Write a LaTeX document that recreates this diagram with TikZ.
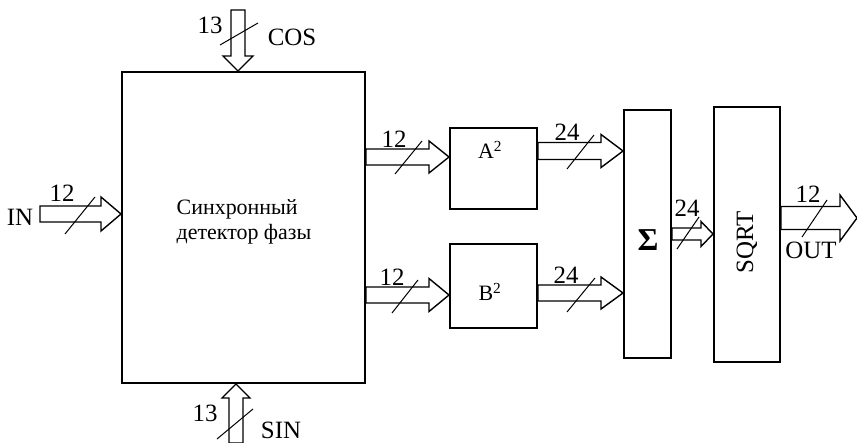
\documentclass[tikz,border=0pt]{standalone}
\usepackage{fontspec}
\setmainfont{Liberation Serif}
\usetikzlibrary{calc}
\tikzset{
  blk/.style={draw, line width=2bp, inner sep=0pt},
  fat/.style={draw, line width=1.4bp, fill=white, line join=miter},
  bus/.style={draw, line width=1bp},
  lbl/.style={font=\fontsize{25}{28}\selectfont, inner sep=0pt},
  txt/.style={font=\fontsize{22}{25}\selectfont, inner sep=0pt},
}
% right-pointing fat arrow: from #1 to #2, half shaft #3, half head #4, head length #5
\newcommand\fatR[5]{\draw[fat] let \p1=#1, \p2=#2 in
  (\x1,\y1+#3) -- (\x2-#5,\y1+#3) -- (\x2-#5,\y1+#4) -- (\x2,\y1) --
  (\x2-#5,\y1-#4) -- (\x2-#5,\y1-#3) -- (\x1,\y1-#3) -- cycle;}
% downward fat arrow
\newcommand\fatD[5]{\draw[fat] let \p1=#1, \p2=#2 in
  (\x1-#3,\y1) -- (\x1-#3,\y2+#5) -- (\x1-#4,\y2+#5) -- (\x1,\y2) --
  (\x1+#4,\y2+#5) -- (\x1+#3,\y2+#5) -- (\x1+#3,\y1) -- cycle;}
% upward fat arrow
\newcommand\fatU[5]{\draw[fat] let \p1=#1, \p2=#2 in
  (\x1-#3,\y1) -- (\x1-#3,\y2-#5) -- (\x1-#4,\y2-#5) -- (\x1,\y2) --
  (\x1+#4,\y2-#5) -- (\x1+#3,\y2-#5) -- (\x1+#3,\y1) -- cycle;}
\begin{document}
\begin{tikzpicture}[x=1bp, y=-1bp]
\useasboundingbox (0,0) rectangle (857,443);

% blocks
\node[blk, minimum width=243bp, minimum height=311bp] (det) at (243.5,227.5) {};
\node[txt, align=left] (dettxt) at (244,222) {Синхронный\\детектор фазы};
\node[blk, minimum width=87bp, minimum height=81bp] (A) at (493.5,168.5) {};
\node[txt] (Atxt) at (490,150) {A\textsuperscript{2}};
\node[blk, minimum width=87bp, minimum height=84bp] (B) at (493.5,286) {};
\node[txt] (Btxt) at (490,292) {B\textsuperscript{2}};
\node[blk, minimum width=47bp, minimum height=248bp] (sig) at (647.5,234) {};
\node[font=\fontsize{32}{34}\selectfont\bfseries, inner sep=0pt] (sigtxt) at (648,240) {Σ};
\node[blk, minimum width=66bp, minimum height=255bp] (sqrt) at (747,234.5) {};
\node[lbl, rotate=90] (sqrttxt) at (747,242) {SQRT};

% anchor coordinates for the buses
\coordinate (inS) at (40,214);
\coordinate (cosS) at (238,10);
\coordinate (sinS) at (236,443);
\coordinate (ya) at (0,157);
\coordinate (yb) at (0,295);
\coordinate (ya2) at (0,151);
\coordinate (yb2) at (0,293);
\coordinate (ys) at (0,234);
\coordinate (yo) at (0,218);
\coordinate (outE) at (857,218);

% fat arrows
\fatR{(inS)}{(det.west|-inS)}{8bp}{17bp}{20bp}
\fatD{(cosS)}{(det.north-|cosS)}{7bp}{15bp}{15bp}
\fatU{(sinS)}{(det.south-|sinS)}{7bp}{14bp}{14bp}
\fatR{(det.east|-ya)}{(A.west|-ya)}{8bp}{16bp}{20bp}
\fatR{(det.east|-yb)}{(B.west|-yb)}{8bp}{16.5bp}{20bp}
\fatR{(A.east|-ya2)}{(sig.west|-ya2)}{8.5bp}{16.5bp}{22bp}
\fatR{(B.east|-yb2)}{(sig.west|-yb2)}{8bp}{16bp}{22bp}
\fatR{(sig.east|-ys)}{(sqrt.west|-ys)}{6bp}{12.5bp}{12bp}
\fatR{(sqrt.east|-yo)}{(outE)}{11.5bp}{23bp}{17bp}

% bus width slashes
\draw[bus] (65,234) -- (95,197);
\draw[bus] (220,45) -- (258,23);
\draw[bus] (217,439) -- (253,409);
\draw[bus] (395,174) -- (422,141);
\draw[bus] (392,313) -- (418,280);
\draw[bus] (567,169) -- (594,135);
\draw[bus] (567,312) -- (595,278);
\draw[bus] (677,249) -- (699,217);
\draw[bus] (802,237) -- (827,200);

% labels
\node[lbl] (lin) at (20,217) {IN};
\node[lbl] (nin) at (62,193) {12};
\node[lbl] (lcos) at (292,37) {COS};
\node[lbl] (ncos) at (210,25) {13};
\node[lbl] (lsin) at (281,430) {SIN};
\node[lbl] (nsin) at (205,413) {13};
\node[lbl] (na) at (394,139) {12};
\node[lbl] (nb) at (392,277) {12};
\node[lbl] (na2) at (567,132) {24};
\node[lbl] (nb2) at (566,275) {24};
\node[lbl] (ns) at (687,208) {24};
\node[lbl] (nout) at (808,194) {12};
\node[lbl] (lout) at (811,250) {OUT};
\end{tikzpicture}
\end{document}
